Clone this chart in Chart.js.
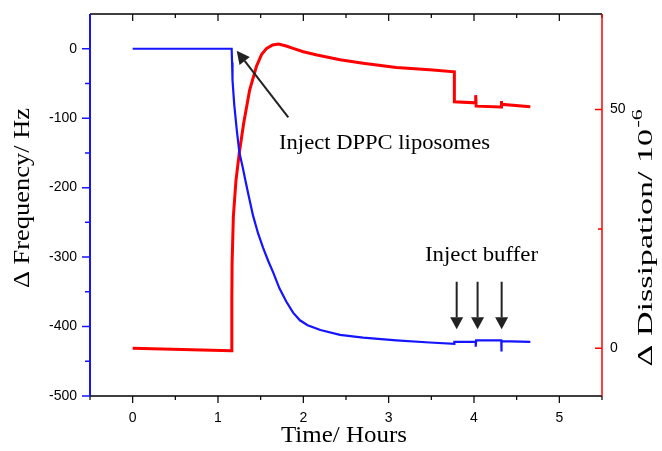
<!DOCTYPE html>
<html>
<head>
<meta charset="utf-8">
<script src="https://cdn.jsdelivr.net/npm/chart.js@4.4.1/dist/chart.umd.min.js"></script>
<style>
  html, body { margin: 0; padding: 0; background: #fff; }
  canvas { display: block; }
</style>
</head>
<body>
<canvas id="qcm-chart" width="662" height="451"></canvas>
<script>
// frequency shift (blue, left axis)
var freqTime = [0, 1.16, 1.165, 1.17, 1.19, 1.22, 1.25, 1.29, 1.32, 1.36, 1.41, 1.47, 1.53, 1.59, 1.65, 1.72, 1.80, 1.88, 1.96, 2.05, 2.20, 2.43, 2.70, 3.09, 3.48, 3.77, 3.77, 4.02, 4.02, 4.025, 4.32, 4.32, 4.325, 4.66];
var freqValues = [0, 0, -20, -45, -80, -117, -149, -171, -189, -212, -240, -266, -287, -306, -323, -345, -364, -380, -391, -398, -405, -412, -416, -420, -423, -425, -422, -422, -429, -420, -420, -436, -421, -422];

// dissipation shift (red, right axis)
var dissTime = [0, 1.16, 1.162, 1.165, 1.18, 1.21, 1.25, 1.30, 1.37, 1.45, 1.51, 1.57, 1.64, 1.71, 1.80, 1.88, 2.00, 2.16, 2.43, 2.70, 3.09, 3.48, 3.77, 3.77, 4.02, 4.02, 4.025, 4.32, 4.32, 4.325, 4.66];
var dissValues = [0, -0.5, 10, 17.8, 27.6, 35, 41, 47, 54, 59, 61.5, 62.8, 63.5, 63.7, 63.3, 62.8, 62.1, 61.4, 60.4, 59.7, 58.8, 58.3, 57.9, 51.6, 51.4, 53, 50.7, 50.5, 51.8, 51.1, 50.6];

// tick labels
var timeTicks = [0, 1, 2, 3, 4, 5];
var freqTicks = [-500, -400, -300, -200, -100, 0];
var dissTicks = [0, 50];

// buffer injection times (hours)
var bufferTimes = [3.797, 4.042, 4.324];

function toPoints(xs, ys) {
    var pts = [];
    for (var i = 0; i < xs.length; i++) {
        pts.push({x: xs[i], y: ys[i]});
    }
    return pts;
}

function setTicks(values) {
    return function(scale) {
        scale.ticks = values.map(function(v) { return {value: v}; });
    };
}

// fixed axis size, and no extra label padding around the plot
function fixSize(w, h) {
    return function(scale) {
        if (w) scale.width = w;
        if (h) scale.height = h;
        scale.paddingTop = 0;
        scale.paddingBottom = 0;
        scale.paddingLeft = 0;
        scale.paddingRight = 0;
    };
}

// draw text stretched along its baseline to a given width
function fitText(ctx, text, x, y, width, align) {
    var w = ctx.measureText(text).width;
    ctx.save();
    ctx.translate(x, y);
    ctx.scale(width / w, 1);
    ctx.textAlign = align || 'left';
    ctx.fillText(text, 0, 0);
    ctx.restore();
}

function arrow(ctx, x1, y1, x2, y2, head, halfW) {
    var ang = Math.atan2(y2 - y1, x2 - x1);
    var bx = x2 - head * Math.cos(ang);
    var by = y2 - head * Math.sin(ang);
    ctx.beginPath();
    ctx.moveTo(x1, y1);
    ctx.lineTo(bx, by);
    ctx.stroke();
    ctx.beginPath();
    ctx.moveTo(x2, y2);
    ctx.lineTo(bx + halfW * Math.sin(ang), by - halfW * Math.cos(ang));
    ctx.lineTo(bx - halfW * Math.sin(ang), by + halfW * Math.cos(ang));
    ctx.closePath();
    ctx.fill();
}

var framePlugin = {
    id: 'frame',
    afterDraw: function(chart) {
        var ctx = chart.ctx;
        var a = chart.chartArea;
        var xs = chart.scales.x, yl = chart.scales.y, yr = chart.scales.y2;
        var i, v, px, py;
        ctx.save();

        // top and bottom frame
        ctx.strokeStyle = '#000';
        ctx.lineWidth = 1.5;
        ctx.beginPath();
        ctx.moveTo(a.left, a.top); ctx.lineTo(a.right, a.top);
        ctx.moveTo(a.left, a.bottom); ctx.lineTo(a.right, a.bottom);
        ctx.stroke();

        // time ticks: outward on bottom, inward on top
        ctx.lineWidth = 1.2;
        ctx.beginPath();
        for (v = -0.5; v <= 5.5001; v += 0.5) {
            px = xs.getPixelForValue(v);
            var major = Math.abs(v - Math.round(v)) < 1e-6;
            var len = major ? 7 : 4;
            ctx.moveTo(px, a.bottom); ctx.lineTo(px, a.bottom + len);
            ctx.moveTo(px, a.top); ctx.lineTo(px, a.top + len);
        }
        ctx.stroke();

        // left axis (blue)
        ctx.strokeStyle = '#1414ff';
        ctx.lineWidth = 2;
        ctx.beginPath();
        ctx.moveTo(a.left, a.top); ctx.lineTo(a.left, a.bottom);
        ctx.stroke();
        ctx.lineWidth = 1.5;
        ctx.beginPath();
        for (v = -500; v <= 0; v += 50) {
            py = yl.getPixelForValue(v);
            var l = (v % 100 === 0) ? 8 : 5;
            ctx.moveTo(a.left - l, py); ctx.lineTo(a.left, py);
        }
        ctx.stroke();

        // right axis (red), ticks inward
        ctx.strokeStyle = '#ff0000';
        ctx.lineWidth = 1.5;
        ctx.beginPath();
        ctx.moveTo(a.right, a.top); ctx.lineTo(a.right, a.bottom);
        ctx.stroke();
        ctx.beginPath();
        for (v = 0; v <= 50; v += 25) {
            py = yr.getPixelForValue(v);
            var rl = (v % 50 === 0) ? 7 : 4;
            ctx.moveTo(a.right - rl, py); ctx.lineTo(a.right, py);
        }
        ctx.stroke();

        // axis titles
        ctx.fillStyle = '#000';
        ctx.textBaseline = 'middle';
        ctx.font = '23px "Liberation Serif", serif';
        fitText(ctx, 'Time/ Hours', 344, 436, 126, 'center');

        ctx.save();
        ctx.translate(23, 198);
        ctx.rotate(-Math.PI / 2);
        fitText(ctx, '\u0394 Frequency/ Hz', 0, 0, 180, 'center');
        ctx.restore();

        ctx.save();
        ctx.translate(646, 238);
        ctx.rotate(-Math.PI / 2);
        var main = '\u0394 Dissipation/ 10';
        ctx.font = '22px "Liberation Serif", serif';
        var w1 = ctx.measureText(main).width;
        ctx.font = '14px "Liberation Serif", serif';
        var w2 = ctx.measureText('-6').width;
        var k = 257 / (w1 + w2 + 1);
        ctx.scale(k, 1);
        var start = -(w1 + w2 + 1) / 2;
        ctx.textAlign = 'left';
        ctx.font = '22px "Liberation Serif", serif';
        ctx.fillText(main, start, 0);
        ctx.font = '14px "Liberation Serif", serif';
        ctx.fillText('-6', start + w1 + 1, -8);
        ctx.restore();

        // annotations
        ctx.fillStyle = '#000';
        ctx.strokeStyle = '#222';
        ctx.font = '22px "Liberation Serif", serif';
        fitText(ctx, 'Inject DPPC liposomes', xs.getPixelForValue(1.715), yl.getPixelForValue(-135.7), 211, 'left');
        ctx.lineWidth = 2;
        ctx.fillStyle = '#222';
        arrow(ctx, xs.getPixelForValue(1.824), yl.getPixelForValue(-98.7),
              xs.getPixelForValue(1.219), yl.getPixelForValue(-2.8), 13, 6.5);

        ctx.fillStyle = '#000';
        fitText(ctx, 'Inject buffer', xs.getPixelForValue(3.426), yl.getPixelForValue(-297), 113, 'left');
        ctx.fillStyle = '#222';
        for (i = 0; i < bufferTimes.length; i++) {
            px = xs.getPixelForValue(bufferTimes[i]);
            arrow(ctx, px, yl.getPixelForValue(-335.5), px, yl.getPixelForValue(-404), 12, 6.5);
        }

        ctx.restore();
    }
};

var tickFont = {family: '"Liberation Sans", Arial, sans-serif', size: 14};

new Chart(document.getElementById('qcm-chart'), {
    type: 'line',
    data: {
        datasets: [{
            label: 'Frequency',
            data: toPoints(freqTime, freqValues),
            borderColor: '#1414ff',
            borderWidth: 2.2,
            pointRadius: 0,
            tension: 0,
            yAxisID: 'y'
        }, {
            label: 'Dissipation',
            data: toPoints(dissTime, dissValues),
            borderColor: '#ff0000',
            borderWidth: 3,
            pointRadius: 0,
            tension: 0,
            yAxisID: 'y2'
        }]
    },
    options: {
        responsive: false,
        animation: false,
        layout: { padding: { top: 14, left: 0, right: 0, bottom: 0 } },
        plugins: {
            legend: { display: false },
            tooltip: { enabled: false }
        },
        scales: {
            x: {
                type: 'linear',
                min: -0.5,
                max: 5.5,
                afterBuildTicks: setTicks(timeTicks),
                afterFit: fixSize(0, 55),
                grid: { display: false, drawTicks: false },
                border: { display: false },
                ticks: { font: tickFont, color: '#000', padding: 14, maxRotation: 0 }
            },
            y: {
                position: 'left',
                min: -500,
                max: 50,
                afterBuildTicks: setTicks(freqTicks),
                afterFit: fixSize(90, 0),
                grid: { display: false, drawTicks: false },
                border: { display: false },
                ticks: { font: tickFont, color: '#000', padding: 13 }
            },
            y2: {
                position: 'right',
                min: -10,
                max: 70,
                afterBuildTicks: setTicks(dissTicks),
                afterFit: fixSize(60, 0),
                grid: { display: false, drawTicks: false },
                border: { display: false },
                ticks: { font: tickFont, color: '#000', padding: 8 }
            }
        }
    },
    plugins: [framePlugin]
});
</script>
</body>
</html>
